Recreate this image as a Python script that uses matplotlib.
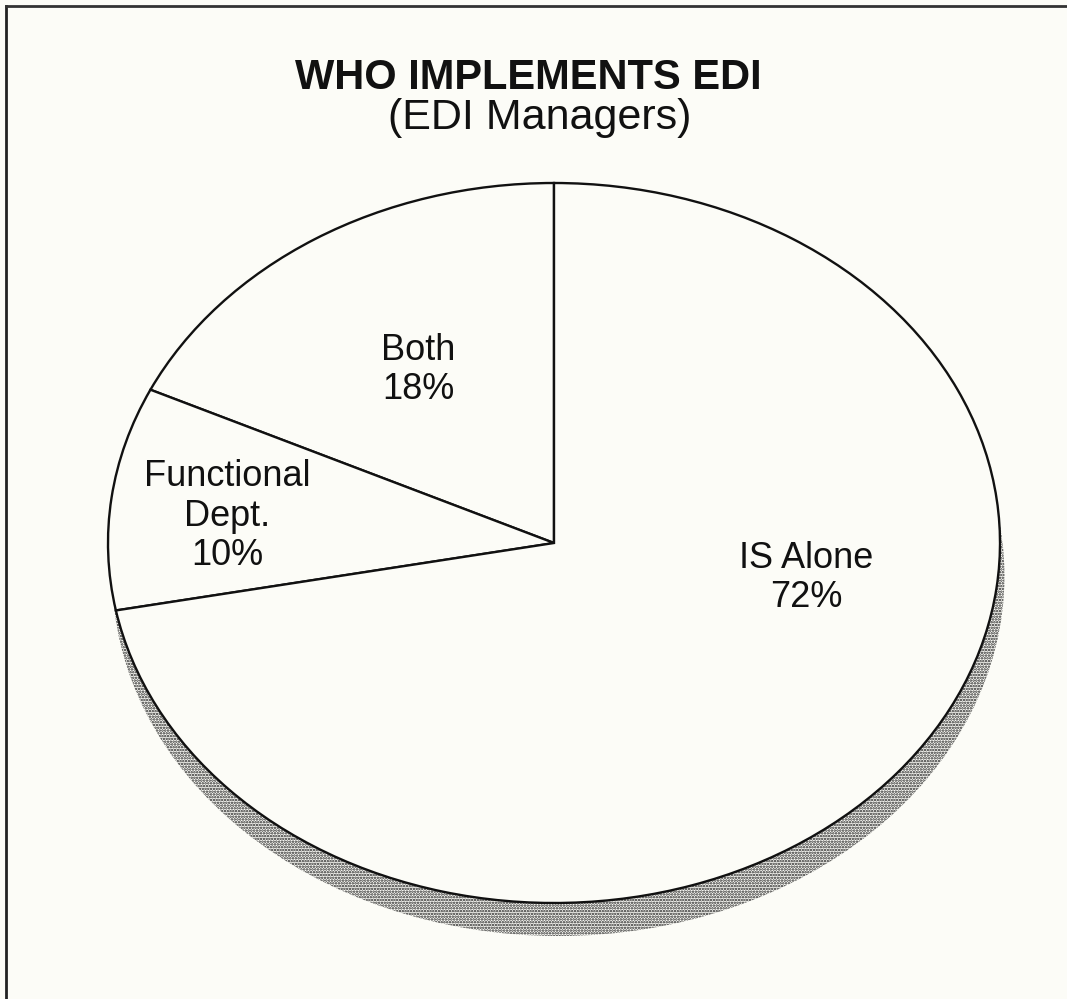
import matplotlib
matplotlib.use('Agg')

import matplotlib.pyplot as plt
from matplotlib.patches import Ellipse
from matplotlib.lines import Line2D

plt.rcParams['font.family'] = ['Liberation Sans', 'DejaVu Sans']
plt.rcParams['hatch.linewidth'] = 1.2

# data, counter-clockwise from 12 o'clock
labels = ['Both', 'Functional\nDept.', 'IS Alone']
shares = [18, 10, 72]
title = 'WHO IMPLEMENTS EDI'
subtitle = '(EDI Managers)'

# label centres in axes units (ellipse radius = 1)
label_pos = [(-0.305, 0.48), (-0.733, 0.075), (0.566, -0.097)]

bg = '#fcfcf7'
W, H = 1067, 999
fig = plt.figure(figsize=(W / 100, H / 100), dpi=100, facecolor=bg)

# ellipse centre and radii in pixels
cx, cy, rx, ry = 554, 543, 446, 360
ax = fig.add_axes([(cx - rx) / W, (H - cy - ry) / H, 2 * rx / W, 2 * ry / H])
ax.set_facecolor(bg)

wedges, _ = ax.pie(shares, startangle=90, counterclock=True, radius=1,
                   wedgeprops=dict(facecolor=bg, edgecolor='#111111',
                                   linewidth=1.7, clip_on=False, zorder=2))
ax.set_aspect('auto')
ax.set_xlim(-1, 1)
ax.set_ylim(-1, 1)
ax.axis('off')

# pie "thickness" below the top face
depth = 33 / ry
side = Ellipse((0.01, -depth), 2, 2, facecolor=bg, edgecolor='#222222',
               linewidth=0, hatch='......', zorder=1, clip_on=False)
ax.add_patch(side)

for (x, y), lab, s in zip(label_pos, labels, shares):
    ax.text(x, y, f'{lab}\n{s}%', ha='center', va='center', fontsize=26,
            linespacing=1.15, color='#111111', zorder=3)

fig.text(528 / W, 1 - 78 / H, title, ha='center', va='center',
         fontsize=30, fontweight='bold', color='#111111')
fig.text(540 / W, 1 - 118 / H, subtitle, ha='center', va='center',
         fontsize=31, color='#111111')

# frame lines, left and top only
fig.add_artist(Line2D([6 / W, 6 / W], [0, 1 - 6 / H], color='#222222', lw=2))
fig.add_artist(Line2D([6 / W, 1], [1 - 6 / H, 1 - 6 / H], color='#333333', lw=2))

fig.savefig('out.png', dpi=100, facecolor=bg)
